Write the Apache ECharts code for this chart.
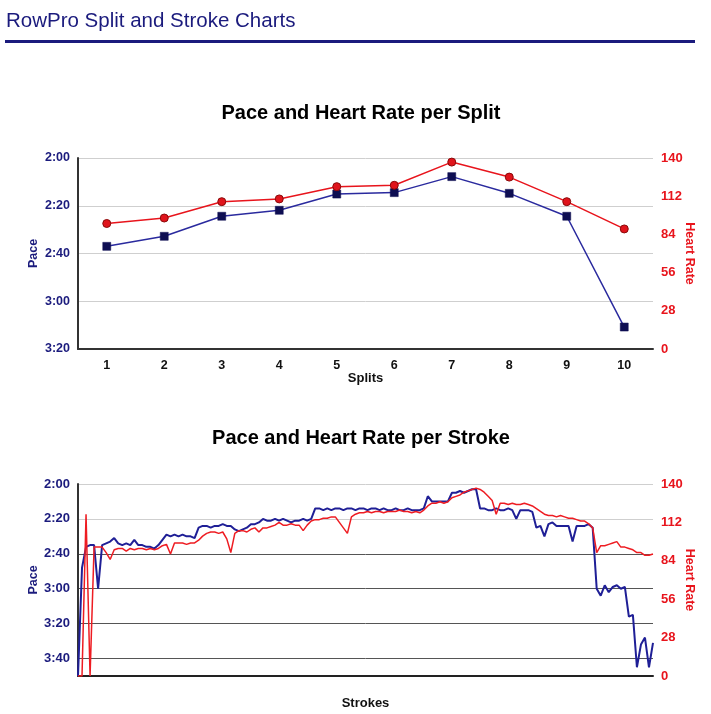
<!DOCTYPE html>
<html>
<head>
<meta charset="utf-8">
<script src="https://cdn.jsdelivr.net/npm/echarts@6/dist/echarts.min.js"></script>
<style>
html,body{margin:0;padding:0;background:#fff;}
#c{width:711px;height:714px;}
</style>
</head>
<body>
<div id="c"></div>
<script>
// ---- Data ----
const splitCategories = ['1','2','3','4','5','6','7','8','9','10'];
const splitPace = [157, 152.8, 144.4, 141.9, 135.1, 134.5, 127.8, 134.8, 144.4, 190.8]; // seconds per 500m
const splitHR = [92, 96, 108, 110, 119, 120, 137, 126, 108, 88];

const strokePace = [
  230,168,156,155,155,180,155,154,153,151,154,155,154,155,152,155,155,156,156,157,
  155,152,149,150,149,150,149,150,150,151,145,144,144,145,144,144,143,144,144,146,
  147,146,145,143,143,142,140,141,141,140,141,140,141,142,141,141,140,141,140,134,
  134,135,134,135,134,134,135,134,134,135,134,134,135,134,134,135,134,135,135,134,
  135,135,134,135,135,135,134,127,130,130,130,130,130,125,125,124,125,124,123,123,
  134,134,135,135,134,135,135,134,135,140,135,135,135,136,145,144,150,143,142,144,
  144,144,144,153,144,144,144,143,145,180,184,178,182,179,178,180,179,196,195,225,
  212,208,225,211
];
const strokeHR = [
  0,0,118,0,94,94,94,90,85,92,93,93,91,93,92,93,93,92,93,92,
  93,95,96,89,97,97,97,96,97,97,99,102,104,105,105,104,105,100,90,104,
  106,106,105,107,108,105,108,108,109,110,112,110,110,111,110,110,106,110,113,114,
  114,115,115,116,116,112,108,104,116,118,119,119,120,119,120,120,119,120,120,120,
  121,120,120,119,120,119,121,124,126,126,127,126,127,130,131,132,134,135,136,137,
  136,134,131,128,118,126,126,125,126,125,125,126,125,124,122,120,118,117,117,116,
  117,116,115,115,114,113,113,111,108,90,95,95,96,97,98,94,94,93,92,90,
  90,88,88,89
];
const strokeCategories = strokePace.map((_, i) => String(i + 1));

const paceTicksTop = { min: 120, max: 200, interval: 20 };
const paceTicksBottom = { min: 120, max: 230, interval: 20 };
const hrTicks = { min: 0, max: 140, interval: 28 };

// ---- Styles ----
const NAVY = '#1b1b7d';
const RED = '#e8141c';
const BLUE_LINE = '#2a2a9e';
const FONT = '"Liberation Sans", Arial, Helvetica, sans-serif';

function fmtPace(v) {
  const m = Math.floor(v / 60);
  const s = Math.round(v % 60);
  return m + ':' + String(s).padStart(2, '0');
}

const chart = echarts.init(document.getElementById('c'), null, { renderer: 'canvas' });

const option = {
  animation: false,
  backgroundColor: '#fff',
  textStyle: { fontFamily: FONT },
  graphic: [
    { type: 'text', left: 6, top: 11, style: { text: 'RowPro Split and Stroke Charts', font: '20.5px ' + FONT, fill: NAVY } },
    { type: 'rect', shape: { x: 5, y: 40, width: 690, height: 3 }, style: { fill: NAVY } },
    { type: 'text', x: 361, y: 113, style: { text: 'Pace and Heart Rate per Split', font: 'bold 20px ' + FONT, fill: '#000', textAlign: 'center', textVerticalAlign: 'middle' } },
    { type: 'text', x: 361, y: 438, style: { text: 'Pace and Heart Rate per Stroke', font: 'bold 20px ' + FONT, fill: '#000', textAlign: 'center', textVerticalAlign: 'middle' } }
  ],
  grid: [
    { left: 78, right: 58, top: 158, height: 191, containLabel: false, outerBoundsMode: 'none' },
    { left: 78, right: 58, top: 484, height: 192, containLabel: false, outerBoundsMode: 'none' }
  ],
  xAxis: [
    {
      gridIndex: 0, type: 'category', data: splitCategories, boundaryGap: true,
      axisLine: { lineStyle: { color: '#333', width: 2 } },
      axisTick: { show: false },
      axisLabel: { color: '#111', fontWeight: 'bold', fontSize: 12.5, margin: 10, fontFamily: FONT },
      name: 'Splits', nameLocation: 'middle', nameGap: 23, nameMoveOverlap: false,
      nameTextStyle: { color: '#111', fontWeight: 'bold', fontSize: 13, fontFamily: FONT }
    },
    {
      gridIndex: 1, type: 'category', data: strokeCategories, boundaryGap: false,
      axisLine: { lineStyle: { color: '#222', width: 2 } },
      axisTick: { show: false },
      axisLabel: { show: false },
      name: 'Strokes', nameLocation: 'middle', nameGap: 21, nameMoveOverlap: false,
      nameTextStyle: { color: '#111', fontWeight: 'bold', fontSize: 13, fontFamily: FONT }
    }
  ],
  yAxis: [
    {
      gridIndex: 0, type: 'value', inverse: true,
      min: paceTicksTop.min, max: paceTicksTop.max, interval: paceTicksTop.interval,
      axisLine: { show: true, lineStyle: { color: '#333', width: 2 } },
      axisTick: { show: false },
      axisLabel: { color: NAVY, fontWeight: 'bold', fontSize: 12.5, margin: 8, formatter: fmtPace, fontFamily: FONT },
      splitLine: { lineStyle: { color: '#cfcfcf', width: 1 } },
      name: 'Pace', nameLocation: 'middle', nameGap: 38, nameRotate: 90, nameMoveOverlap: false,
      nameTextStyle: { color: NAVY, fontWeight: 'bold', fontSize: 12.5, fontFamily: FONT }
    },
    {
      gridIndex: 0, type: 'value', position: 'right',
      min: hrTicks.min, max: hrTicks.max, interval: hrTicks.interval,
      axisLine: { show: false }, axisTick: { show: false },
      axisLabel: { color: RED, fontWeight: 'bold', fontSize: 13, margin: 8, fontFamily: FONT },
      splitLine: { show: false },
      name: 'Heart Rate', nameLocation: 'middle', nameGap: 30, nameRotate: -90, nameMoveOverlap: false,
      nameTextStyle: { color: RED, fontWeight: 'bold', fontSize: 12.5, fontFamily: FONT }
    },
    {
      gridIndex: 1, type: 'value', inverse: true,
      min: paceTicksBottom.min, max: paceTicksBottom.max, interval: paceTicksBottom.interval,
      axisLine: { show: true, lineStyle: { color: '#333', width: 2 } },
      axisTick: { show: false },
      axisLabel: { color: NAVY, fontWeight: 'bold', fontSize: 13, margin: 8, fontFamily: FONT,
        formatter: v => (v >= paceTicksBottom.max ? '' : fmtPace(v)) },
      splitLine: { lineStyle: { color: ['#cfcfcf', '#cfcfcf', '#555', '#555', '#555', '#555', '#222'], width: 1 } },
      name: 'Pace', nameLocation: 'middle', nameGap: 38, nameRotate: 90, nameMoveOverlap: false,
      nameTextStyle: { color: NAVY, fontWeight: 'bold', fontSize: 12.5, fontFamily: FONT }
    },
    {
      gridIndex: 1, type: 'value', position: 'right',
      min: hrTicks.min, max: hrTicks.max, interval: hrTicks.interval,
      axisLine: { show: false }, axisTick: { show: false },
      axisLabel: { color: RED, fontWeight: 'bold', fontSize: 13, margin: 8, fontFamily: FONT },
      splitLine: { show: false },
      name: 'Heart Rate', nameLocation: 'middle', nameGap: 30, nameRotate: -90, nameMoveOverlap: false,
      nameTextStyle: { color: RED, fontWeight: 'bold', fontSize: 12.5, fontFamily: FONT }
    }
  ],
  series: [
    {
      type: 'line', xAxisIndex: 0, yAxisIndex: 0, data: splitPace,
      symbol: 'rect', symbolSize: 8, showAllSymbol: true,
      lineStyle: { color: BLUE_LINE, width: 1.5 },
      itemStyle: { color: '#0e0e52', borderColor: '#0e0e52', borderWidth: 0.5 }
    },
    {
      type: 'line', xAxisIndex: 0, yAxisIndex: 1, data: splitHR,
      symbol: 'circle', symbolSize: 8, showAllSymbol: true,
      lineStyle: { color: RED, width: 1.5 },
      itemStyle: { color: '#e0141c', borderColor: '#8a0a0a', borderWidth: 1 }
    },
    {
      type: 'line', xAxisIndex: 1, yAxisIndex: 2, data: strokePace,
      symbol: 'none', lineStyle: { color: '#1f1f96', width: 2 }
    },
    {
      type: 'line', xAxisIndex: 1, yAxisIndex: 3, data: strokeHR,
      symbol: 'none', lineStyle: { color: '#ee1c22', width: 1.5 }
    }
  ]
};
chart.setOption(option);
</script>
</body>
</html>
